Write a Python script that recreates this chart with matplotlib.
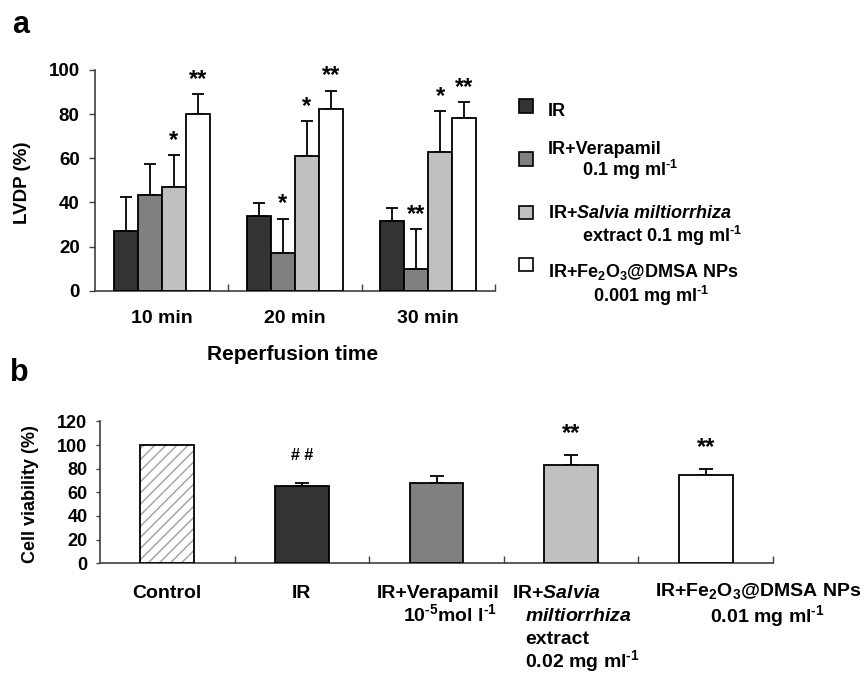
import matplotlib
matplotlib.use('Agg')
import matplotlib.pyplot as plt
import numpy as np
from matplotlib.colors import to_rgba
from matplotlib.patches import Rectangle
from matplotlib.transforms import blended_transform_factory

plt.rcParams['font.family'] = ['Liberation Sans', 'DejaVu Sans']
plt.rcParams['font.weight'] = 'bold'
plt.rcParams['mathtext.fontset'] = 'custom'
plt.rcParams['mathtext.rm'] = 'Liberation Sans:bold'
plt.rcParams['mathtext.it'] = 'Liberation Sans:italic:bold'
plt.rcParams['mathtext.bf'] = 'Liberation Sans:bold'
plt.rcParams['mathtext.default'] = 'rm'
plt.rcParams['hatch.linewidth'] = 1.0

# ---------------- data: panel a ----------------
times = ['10 min', '20 min', '30 min']
series_a = ['IR', 'IR+Verapamil', 'IR+Salvia', 'IR+Fe2O3@DMSA']
ir_a = [27.0, 33.7, 31.6]
ir_a_err = [15.5, 6.2, 5.9]
ver_a = [43.2, 16.9, 9.7]
ver_a_err = [14.4, 15.7, 18.2]
sal_a = [47.0, 61.0, 62.7]
sal_a_err = [14.5, 15.9, 18.6]
fe_a = [79.9, 82.5, 78.2]
fe_a_err = [9.1, 8.1, 7.3]
marks_ir_a = ['', '', '']
marks_ver_a = ['', '*', '**']
marks_sal_a = ['*', '*', '*']
marks_fe_a = ['**', '**', '**']
colors_a = ['#333333', '#808080', '#c0c0c0', '#ffffff']
legend_lines = [
    ['IR'],
    ['IR+Verapamil', '0.1 mg ml$^{\\text{-1}}$'],
    ['IR+$\\it{Salvia\\ miltiorrhiza}$', 'extract 0.1 mg ml$^{\\text{-1}}$'],
    ['IR+Fe$_{2}$O$_{3}$@DMSA NPs', '0.001 mg ml$^{\\text{-1}}$'],
]

# ---------------- data: panel b ----------------
groups_b = ['Control', 'IR', 'IR+Verapamil', 'IR+Salvia', 'IR+Fe2O3@DMSA']
viab = [100.0, 65.0, 68.0, 83.0, 75.0]
viab_err = [0.0, 2.8, 6.2, 8.2, 4.8]
marks_b = ['', '# #', '', '**', '**']
colors_b = ['#ffffff', '#333333', '#808080', '#c0c0c0', '#ffffff']

W, H = 864, 675
fig = plt.figure(figsize=(W / 100, H / 100), dpi=100)


def fx(px):
    return px / W


def fy(py):
    return 1 - py / H


# ================= panel a =================
axa = fig.add_axes([fx(95), fy(290.7), (495 - 95) / W, (290.7 - 70) / H])
x = np.arange(len(times))
bw = 0.18
offs = (np.arange(4) - 1.5) * bw
vals_a = [ir_a, ver_a, sal_a, fe_a]
errs_a = [ir_a_err, ver_a_err, sal_a_err, fe_a_err]
marks_a = [marks_ir_a, marks_ver_a, marks_sal_a, marks_fe_a]
for i in range(4):
    xi = x + offs[i]
    axa.bar(xi, vals_a[i], width=bw, color=colors_a[i], edgecolor='black',
            linewidth=1.3, zorder=3, label=series_a[i])
    axa.errorbar(xi, vals_a[i], yerr=[np.zeros(len(xi)), errs_a[i]], fmt='none',
                 ecolor='black', elinewidth=1.3, capsize=4.6, capthick=1.3, zorder=2)
    for xx, v, e, m in zip(xi, vals_a[i], errs_a[i], marks_a[i]):
        if m:
            axa.annotate(m, xy=(xx, v + e), xytext=(0, 6), textcoords='offset points',
                         ha='center', va='baseline', fontsize=17, fontweight='bold',
                         annotation_clip=False)

axa.set_xlim(-0.5, 2.5)
axa.set_ylim(0, 100)
axa.set_yticks(np.arange(0, 101, 20))
axa.tick_params(axis='y', direction='out', length=4, width=1, labelsize=13.5, pad=7,
                color='#404040')
axa.set_xticks(x, labels=times)
axa.tick_params(axis='x', which='major', length=0, labelsize=14, pad=14)
axa.set_xticks([0.5, 1.5, 2.5], minor=True)
axa.tick_params(axis='x', which='minor', direction='in', length=5, width=1, color='#404040')
for s in ['top', 'right']:
    axa.spines[s].set_visible(False)
for s in ['left', 'bottom']:
    axa.spines[s].set_color('#404040')
    axa.spines[s].set_linewidth(1.2)
axa.set_ylabel('LVDP (%)', fontsize=13.5, fontweight='bold')
axa.yaxis.set_label_coords(-0.16, 0.49)
axa.set_xlabel('Reperfusion time', fontsize=15, fontweight='bold')
axa.xaxis.set_label_coords(0.495, -0.245)

# legend drawn by hand
marker_cy = [105.5, 158.5, 212, 264]
line_base = [[116.5], [153.5, 176.5], [218.5, 241.5], [277.5, 301.5]]
line_x = [[548], [548, 582], [548, 582], [548, 593]]
for i in range(4):
    fig.patches.append(Rectangle((fx(519), fy(marker_cy[i] + 7)), 14 / W, 13 / H,
                                 transform=fig.transFigure, facecolor=colors_a[i],
                                 edgecolor='black', linewidth=1.2))
    for txt, by, lx in zip(legend_lines[i], line_base[i], line_x[i]):
        fig.text(fx(lx), fy(by), txt, fontsize=13, fontweight='bold',
                 ha='left', va='baseline')

# ================= panel b =================
axb = fig.add_axes([fx(100), fy(563.3), (773 - 100) / W, (563.3 - 421.4) / H])
xb = np.arange(len(groups_b))
bars = axb.bar(xb, viab, width=0.4, color=colors_b, edgecolor='black', linewidth=1.3,
               zorder=3, hatch=['///', '', '', '', ''])
try:
    bars.patches[0]._hatch_color = to_rgba('#a0a0a0')
except Exception:
    pass
axb.errorbar(xb[1:], viab[1:], yerr=[np.zeros(len(xb) - 1), viab_err[1:]], fmt='none',
             ecolor='black', elinewidth=1.3, capsize=4.8, capthick=1.3, zorder=2)
for xx, v, e, m in zip(xb, viab, viab_err, marks_b):
    if m == '**':
        axb.annotate(m, xy=(xx, v + e), xytext=(0, 11), textcoords='offset points',
                     ha='center', va='baseline', fontsize=17, fontweight='bold',
                     annotation_clip=False)
    elif m:
        axb.annotate(m, xy=(xx, v + e), xytext=(0, 17), textcoords='offset points',
                     ha='center', va='baseline', fontsize=11.5, fontweight='bold',
                     annotation_clip=False)

axb.set_xlim(-0.5, 4.5)
axb.set_ylim(0, 120)
axb.set_yticks(np.arange(0, 121, 20))
axb.tick_params(axis='y', direction='out', length=3, width=1, labelsize=13, pad=6,
                color='#404040')
axb.set_xticks([0.5, 1.5, 2.5, 3.5, 4.5])
axb.set_xticklabels([])
axb.tick_params(axis='x', direction='in', length=5, width=1, color='#404040')
for s in ['top', 'right']:
    axb.spines[s].set_visible(False)
for s in ['left', 'bottom']:
    axb.spines[s].set_color('#404040')
    axb.spines[s].set_linewidth(1.2)
axb.set_ylabel('Cell viability (%)', fontsize=13, fontweight='bold')
axb.yaxis.set_label_coords(-0.09, 0.49)

# category labels of panel b
trb = blended_transform_factory(axb.transData, fig.transFigure)


def put(xdata, ypx, txt, ha='center'):
    axb.text(xdata, fy(ypx), txt, transform=trb, fontsize=14, fontweight='bold',
             ha=ha, va='baseline', clip_on=False)


def dx(px):
    return (px - 100) / 134.6 - 0.5


put(xb[0], 598, 'Control')
put(xb[1], 598, 'IR')
put(dx(499), 598, 'IR+Verapamil', ha='right')
put(dx(497), 621, '10$^{\\text{-5}}$mol l$^{\\text{-1}}$', ha='right')
put(dx(512), 598, 'IR+$\\it{Salvia}$', ha='left')
put(dx(525), 621, '$\\it{miltiorrhiza}$', ha='left')
put(dx(525), 644, 'extract', ha='left')
put(dx(525), 667, '0.02 mg ml$^{\\text{-1}}$', ha='left')
put(dx(758), 596, 'IR+Fe$_{2}$O$_{3}$@DMSA NPs')
put(dx(767), 622, '0.01 mg ml$^{\\text{-1}}$')

# panel letters
fig.text(fx(12), fy(33), 'a', fontsize=22, fontweight='bold', ha='left', va='baseline')
fig.text(fx(10), fy(381), 'b', fontsize=22, fontweight='bold', ha='left', va='baseline')

fig.savefig('out.png', dpi=100)
